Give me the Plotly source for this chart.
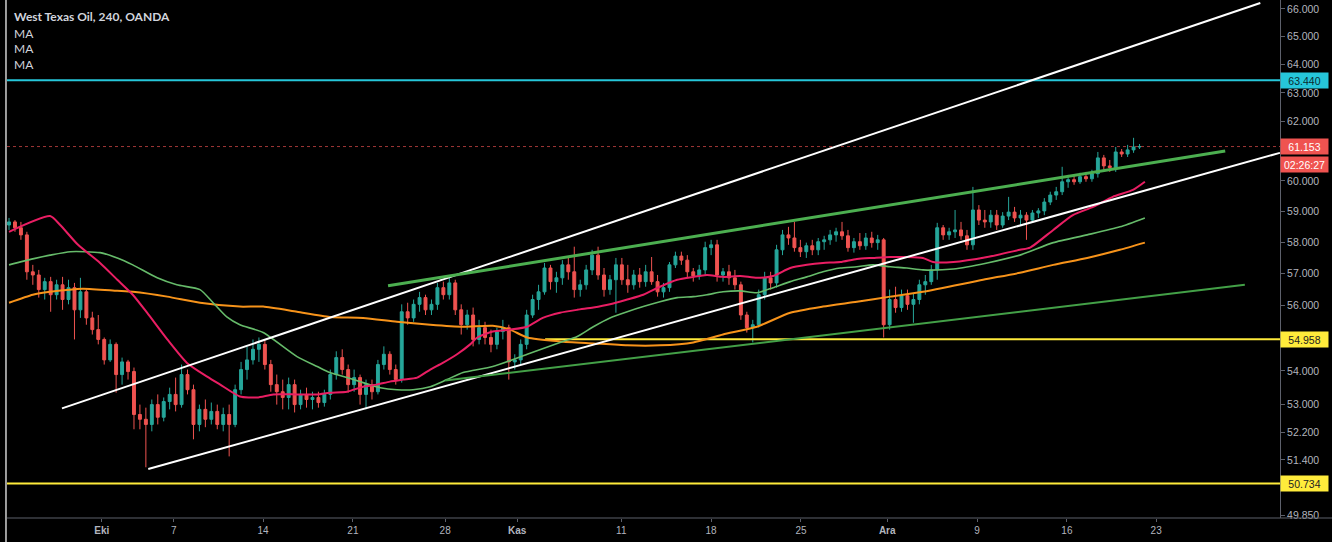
import math
import plotly.graph_objects as go

# ---------------- data ----------------
open_ = [
    58.55, 58.65, 58.46, 58.23, 57.05, 56.95, 56.49, 56.74, 56.33, 56.64,
    56.18, 56.55, 55.86, 56.42, 55.61, 55.25, 54.95, 54.33, 54.80, 53.89,
    54.27, 53.98, 52.71, 52.57, 52.42, 53.00, 52.63, 53.09, 53.30, 53.00,
    53.89, 53.44, 52.42, 52.86, 52.57, 52.80, 52.42, 52.71, 52.42, 53.44,
    54.04, 54.33, 54.65, 54.80, 54.19, 53.59, 53.38, 53.21, 53.59, 53.00,
    53.30, 53.15, 53.21, 53.06, 53.30, 53.89, 54.40, 54.04, 53.59, 53.80,
    53.30, 53.59, 53.38, 54.19, 54.50, 54.04, 53.74, 55.80, 55.61, 56.03,
    56.24, 55.86, 56.03, 56.55, 56.33, 56.70, 55.86, 55.40, 55.70, 54.95,
    55.31, 55.01, 54.80, 55.19, 55.31, 54.27, 54.33, 54.80, 55.70, 56.18,
    56.42, 57.17, 56.74, 56.86, 57.27, 57.05, 56.49, 56.64, 57.11, 57.58,
    56.95, 56.49, 56.80, 57.27, 56.80, 56.64, 56.95, 56.74, 57.05, 56.74,
    56.42, 56.55, 57.27, 57.55, 57.42, 57.05, 56.92, 57.11, 57.82, 57.91,
    56.95, 57.05, 56.86, 56.64, 55.70, 55.31, 55.40, 56.33, 56.86, 56.70,
    57.75, 58.23, 58.13, 57.82, 57.69, 57.88, 57.75, 58.01, 58.07, 58.23,
    58.33, 58.20, 57.82, 58.01, 57.88, 58.13, 57.98, 58.07, 55.40, 56.18,
    55.93, 56.30, 56.03, 56.18, 56.64, 56.74, 57.11, 58.46, 58.23, 58.33,
    58.39, 58.20, 57.91, 59.04, 58.71, 58.65, 58.87, 58.55, 58.84, 58.97,
    58.78, 58.87, 58.71, 58.94, 59.01, 59.30, 59.53, 59.64, 59.97, 60.04,
    59.97, 60.14, 60.07, 60.24, 60.77, 60.50, 60.44, 60.97, 60.90, 61.04,
    61.14,
]
high = [
    58.78, 58.71, 58.65, 58.33, 57.27, 57.11, 56.86, 56.89, 56.80, 56.89,
    56.80, 56.70, 56.86, 56.49, 55.80, 55.70, 55.01, 54.95, 54.86, 54.40,
    54.33, 54.10, 53.00, 52.91, 53.15, 53.30, 53.21, 53.50, 53.80, 54.19,
    54.04, 53.59, 53.00, 53.15, 53.06, 53.00, 52.91, 53.00, 53.59, 54.27,
    54.74, 54.95, 55.01, 54.95, 54.33, 53.89, 53.74, 53.80, 53.74, 53.44,
    53.50, 53.38, 53.38, 53.44, 54.04, 54.59, 54.65, 54.19, 54.04, 53.89,
    53.74, 53.74, 54.33, 54.74, 54.59, 54.19, 56.03, 56.08, 56.18, 56.42,
    56.33, 56.18, 56.70, 56.74, 56.86, 56.80, 56.03, 55.86, 55.93, 55.55,
    55.49, 55.25, 55.31, 55.55, 55.40, 54.50, 54.95, 55.86, 56.33, 56.64,
    57.33, 57.27, 57.05, 57.42, 57.49, 57.85, 56.80, 57.27, 57.75, 57.85,
    57.17, 56.95, 57.49, 57.49, 57.27, 57.11, 57.17, 57.27, 57.52, 56.95,
    56.70, 57.36, 57.69, 57.69, 57.58, 57.17, 57.27, 58.01, 58.07, 58.07,
    57.17, 57.27, 57.11, 56.74, 55.80, 55.55, 56.49, 57.05, 57.05, 57.91,
    58.39, 58.49, 58.65, 58.07, 57.98, 58.07, 58.13, 58.20, 58.39, 58.46,
    58.65, 58.39, 58.13, 58.29, 58.29, 58.33, 58.23, 58.13, 56.49, 56.58,
    56.49, 56.49, 56.39, 56.80, 56.95, 57.27, 58.62, 58.55, 58.46, 59.04,
    58.65, 58.39, 59.80, 59.20, 59.04, 59.04, 59.04, 58.97, 59.47, 59.14,
    59.04, 58.97, 59.04, 59.10, 59.43, 59.64, 59.80, 60.47, 60.20, 60.20,
    60.27, 60.30, 60.37, 60.97, 60.87, 60.70, 61.14, 61.07, 61.21, 61.45,
    61.24,
]
low = [
    58.39, 58.33, 58.07, 56.80, 56.64, 56.24, 56.18, 55.80, 56.18, 55.86,
    56.03, 54.95, 55.61, 55.40, 55.10, 54.80, 54.19, 54.27, 53.35, 53.59,
    53.74, 52.28, 52.28, 51.19, 52.22, 52.42, 52.51, 52.86, 52.80, 52.91,
    53.30, 51.99, 52.22, 52.34, 52.42, 52.28, 52.22, 51.50, 52.34, 53.30,
    53.74, 54.19, 54.27, 54.04, 53.38, 53.00, 52.86, 52.86, 52.77, 52.86,
    52.91, 52.86, 52.91, 52.94, 53.15, 53.74, 53.89, 53.35, 53.38, 53.00,
    52.86, 53.15, 53.30, 54.04, 53.89, 53.59, 53.65, 55.40, 55.49, 55.80,
    55.70, 55.70, 55.86, 56.18, 56.18, 55.70, 55.10, 55.25, 54.74, 54.80,
    54.80, 54.56, 54.65, 54.95, 53.74, 54.04, 54.19, 54.65, 55.61, 55.86,
    56.33, 56.49, 56.39, 56.64, 56.80, 56.24, 56.27, 56.49, 56.95, 56.80,
    56.27, 56.33, 55.77, 56.64, 56.39, 56.49, 56.55, 56.58, 56.64, 56.27,
    56.24, 56.42, 57.17, 57.27, 56.86, 56.74, 56.80, 56.95, 57.58, 56.74,
    56.74, 56.64, 56.49, 55.55, 55.16, 54.86, 55.31, 56.18, 56.49, 56.55,
    57.58, 57.91, 57.69, 57.52, 57.49, 57.58, 57.58, 57.75, 57.91, 58.01,
    58.07, 57.69, 57.66, 57.75, 57.75, 57.82, 57.75, 55.01, 55.25, 55.77,
    55.80, 55.86, 55.46, 56.03, 56.33, 56.64, 56.80, 58.07, 58.07, 58.13,
    58.07, 57.75, 57.75, 58.55, 58.46, 58.46, 58.39, 58.46, 58.71, 58.65,
    58.55, 58.07, 58.65, 58.78, 58.87, 59.20, 59.37, 59.53, 59.77, 59.87,
    59.90, 59.97, 59.97, 60.11, 60.37, 60.30, 60.30, 60.80, 60.80, 60.94,
    61.07,
]
close = [
    58.65, 58.46, 58.23, 57.05, 56.95, 56.49, 56.74, 56.33, 56.64, 56.18,
    56.55, 55.86, 56.42, 55.61, 55.25, 54.95, 54.33, 54.80, 53.89, 54.27,
    53.98, 52.71, 52.57, 52.42, 53.00, 52.63, 53.09, 53.30, 53.00, 53.89,
    53.44, 52.42, 52.86, 52.57, 52.80, 52.42, 52.71, 52.42, 53.44, 54.04,
    54.33, 54.65, 54.80, 54.19, 53.59, 53.38, 53.21, 53.59, 53.00, 53.30,
    53.15, 53.21, 53.06, 53.30, 53.89, 54.40, 54.04, 53.59, 53.80, 53.30,
    53.59, 53.38, 54.19, 54.50, 54.04, 53.74, 55.80, 55.61, 56.03, 56.24,
    55.86, 56.03, 56.55, 56.33, 56.70, 55.86, 55.40, 55.70, 54.95, 55.31,
    55.01, 54.80, 55.19, 55.31, 54.27, 54.33, 54.80, 55.70, 56.18, 56.42,
    57.17, 56.74, 56.86, 57.27, 57.05, 56.49, 56.64, 57.11, 57.58, 56.95,
    56.49, 56.80, 57.27, 56.80, 56.64, 56.95, 56.74, 57.05, 56.74, 56.42,
    56.55, 57.27, 57.55, 57.42, 57.05, 56.92, 57.11, 57.82, 57.91, 56.95,
    57.05, 56.86, 56.64, 55.70, 55.31, 55.40, 56.33, 56.86, 56.70, 57.75,
    58.23, 58.13, 57.82, 57.69, 57.88, 57.75, 58.01, 58.07, 58.23, 58.33,
    58.20, 57.82, 58.01, 57.88, 58.13, 57.98, 58.07, 55.40, 56.18, 55.93,
    56.30, 56.03, 56.18, 56.64, 56.74, 57.11, 58.46, 58.23, 58.33, 58.39,
    58.20, 57.91, 59.04, 58.71, 58.65, 58.87, 58.55, 58.84, 58.97, 58.78,
    58.87, 58.71, 58.94, 59.01, 59.30, 59.53, 59.64, 59.97, 60.04, 59.97,
    60.14, 60.07, 60.24, 60.77, 60.50, 60.44, 60.97, 60.90, 61.04, 61.14,
    61.153,
]

# moving averages (bar index, price)
ma_red_bar = [0, 6.9, 8.6, 11.6, 15.3, 18.2, 20.8, 23.2, 26.6, 29.9, 33.3, 35.5, 38.8, 41.7, 44.4,
              48.4, 51.8, 53.9, 56.8, 59.5, 61.8, 64.0, 66.2, 68.6, 70.8, 72.9, 75.3, 77.5, 78.7,
              81.3, 84.2, 87.1, 89.7, 92.6, 95.5, 98.2, 101.0, 103.9, 106.6, 109.4, 112.3, 115.0,
              117.3, 120.0, 122.9, 125.7, 128.4, 131.3, 134.1, 136.8, 139.7, 142.5, 145.2, 148.1,
              150.9, 153.6, 155.3, 158.7, 164.4, 169.9, 171.6, 175.5, 178.8, 182.2, 185.5, 188.9, 190.9]
ma_red = [58.33, 58.84, 58.55, 57.91, 57.33, 56.80, 56.33, 55.77, 54.95, 54.24, 53.83, 53.59, 53.24,
          53.21, 53.30, 53.30, 53.30, 53.35, 53.38, 53.53, 53.59, 53.68, 53.74, 53.80, 54.04, 54.24,
          54.50, 54.80, 55.01, 55.19, 55.25, 55.34, 55.61, 55.77, 55.86, 55.93, 56.03, 56.18, 56.33,
          56.58, 56.80, 56.89, 56.95, 56.89, 56.92, 56.86, 56.92, 57.17, 57.27, 57.33, 57.36, 57.46,
          57.49, 57.52, 57.52, 57.49, 57.36, 57.36, 57.52, 57.75, 57.82, 58.39, 58.87, 59.14, 59.47,
          59.70, 59.97]

ma_green_bar = [0, 4.0, 6.9, 10.3, 15.3, 18.2, 20.8, 24.9, 28.2, 32.1, 34.3, 36.6, 38.8, 42.7, 48.4,
                51.8, 53.9, 56.8, 59.5, 62.4, 65.2, 67.9, 70.8, 73.6, 76.3, 81.3, 87.1, 92.6, 95.5,
                98.2, 101.0, 103.9, 106.6, 109.4, 112.3, 115.0, 117.3, 120.0, 122.9, 125.7, 128.4,
                131.3, 134.1, 136.8, 139.7, 142.5, 145.2, 148.1, 150.9, 153.6, 158.7, 164.4, 169.9,
                175.5, 181.2, 186.7, 190.9]
ma_green = [57.27, 57.46, 57.58, 57.69, 57.66, 57.49, 57.27, 56.86, 56.64, 56.49, 56.08, 55.64,
            55.40, 55.16, 54.43, 54.13, 53.95, 53.80, 53.65, 53.50, 53.44, 53.44, 53.53, 53.74,
            53.95, 54.13, 54.50, 54.86, 55.04, 55.34, 55.61, 55.80, 55.96, 56.11, 56.24, 56.27,
            56.33, 56.42, 56.45, 56.39, 56.55, 56.74, 56.89, 57.05, 57.17, 57.21, 57.27, 57.21,
            57.17, 57.11, 57.14, 57.33, 57.58, 57.98, 58.23, 58.49, 58.78]

ma_orange_bar = [0, 4.0, 6.9, 12.4, 18.2, 20.8, 26.6, 32.1, 38.8, 42.7, 48.4, 53.9, 59.5, 65.2, 70.8,
                 76.3, 81.3, 84.2, 87.1, 92.6, 98.2, 103.9, 109.4, 115.0, 120.0, 125.7, 131.3, 136.8,
                 142.5, 148.1, 153.6, 163.7, 169.9, 175.5, 181.2, 186.7, 190.9]
ma_orange = [56.08, 56.33, 56.42, 56.52, 56.45, 56.42, 56.27, 56.08, 55.96, 55.96, 55.80, 55.64,
             55.61, 55.49, 55.40, 55.34, 55.37, 55.25, 55.01, 54.89, 54.83, 54.77, 54.77, 54.86,
             55.10, 55.34, 55.77, 55.96, 56.11, 56.27, 56.42, 56.80, 57.02, 57.27, 57.49, 57.75, 57.98]

# drawn trend lines: (start bar, end bar), (start price, end price)
chan_upper_bar, chan_upper_px = [8.9, 210.3], [52.89, 66.22]
chan_lower_bar, chan_lower_px = [23.4, 213.6], [51.14, 60.94]
res_green_bar, res_green_px = [63.7, 204.4], [56.61, 61.00]
sup_green_bar, sup_green_px = [73.3, 207.7], [53.71, 56.64]

# horizontal levels
level_cyan = 63.440
level_last = 61.153
level_yellow_hi = 54.958
level_yellow_hi_from = 90.1
level_yellow_lo = 50.734
countdown_text = "02:26:27"

# axes
x_range = [-0.34, 213.61]
y_range_price = [49.77, 66.33]
x_tick_pos = [15.6, 27.7, 42.7, 57.8, 73.3, 85.4, 102.9, 118.0, 133.1, 147.6, 162.7, 177.8, 192.8]
x_tick_text = ["<b>Eki</b>", "7", "14", "21", "28", "<b>Kas</b>", "11", "18", "25",
               "<b>Ara</b>", "9", "16", "23"]
y_tick_vals = [66, 65, 64, 63, 62, 60, 59, 58, 57, 56, 54, 53, 52.2, 51.4, 49.85]
y_tick_text = [f"{v:.3f}" for v in y_tick_vals]

title_text = "West Texas Oil, 240, OANDA"
ma_labels = ["MA", "MA", "MA"]

# ---------------- styles ----------------
UP = "#26a69a"
DOWN = "#ef5350"
AXIS = "#5d606b"
TXT = "#b2b5be"

bars = list(range(len(close)))
fig = go.Figure()

def hline(price, color, width, dash="solid", x0=None, opacity=1.0):
    fig.add_trace(go.Scatter(
        x=[x_range[0] if x0 is None else x0, x_range[1]], y=[price, price],
        mode="lines", line=dict(color=color, width=width, dash=dash), opacity=opacity,
        hoverinfo="skip", showlegend=False))

hline(level_cyan, "#26c6da", 2)
hline(level_yellow_lo, "#ffeb3b", 2)
hline(level_yellow_hi, "#ffeb3b", 2, x0=level_yellow_hi_from)
hline(level_last, "#d84a4a", 1, dash="dot", opacity=0.75)

fig.add_trace(go.Candlestick(
    x=bars, open=open_, high=high, low=low, close=close,
    increasing=dict(line=dict(color=UP, width=1), fillcolor=UP),
    decreasing=dict(line=dict(color=DOWN, width=1), fillcolor=DOWN),
    whiskerwidth=0, hoverinfo="skip", showlegend=False))

for xs, ys, col, w in [(ma_orange_bar, ma_orange, "#f7931a", 2),
                       (ma_green_bar, ma_green, "#66bb6a", 1.6),
                       (ma_red_bar, ma_red, "#e91e63", 2)]:
    fig.add_trace(go.Scatter(x=xs, y=ys, mode="lines",
                             line=dict(color=col, width=w, shape="spline", smoothing=0.6),
                             hoverinfo="skip", showlegend=False))

for xs, ys, col, w in [(chan_upper_bar, chan_upper_px, "#ffffff", 2),
                       (chan_lower_bar, chan_lower_px, "#ffffff", 2),
                       (res_green_bar, res_green_px, "#4caf50", 3),
                       (sup_green_bar, sup_green_px, "#43a047", 2)]:
    fig.add_trace(go.Scatter(x=xs, y=ys, mode="lines", line=dict(color=col, width=w),
                             hoverinfo="skip", showlegend=False))

annotations = [
    dict(text=f"<b>{title_text}</b>", x=0.0039, y=0.969, xref="paper", yref="paper",
         xanchor="left", yanchor="middle", showarrow=False,
         font=dict(family="Lato", size=12, color="#d1d4dc")),
]
for k, lab in enumerate(ma_labels):
    annotations.append(dict(text=lab, x=0.0039, y=[0.936, 0.907, 0.876][k], xref="paper", yref="paper",
                            xanchor="left", yanchor="middle", showarrow=False,
                            font=dict(family="Lato", size=12, color="#d1d4dc")))

def price_box(price, bg, fg, text=None, yshift=0):
    annotations.append(dict(
        text=text if text is not None else f"{price:.3f}", x=1, y=math.log10(price),
        xref="paper", yref="y", xanchor="left", yanchor="middle", yshift=yshift,
        showarrow=False, bgcolor=bg, width=45, height=13, borderpad=1, align="center",
        font=dict(family="Liberation Sans", size=10.5, color=fg)))

price_box(level_cyan, "#26c6da", "#0b2b30")
price_box(level_last, DOWN, "#ffffff")
price_box(level_last, DOWN, "#ffffff", text=countdown_text, yshift=-18)
price_box(level_yellow_hi, "#ffeb3b", "#222222")
price_box(level_yellow_lo, "#ffeb3b", "#222222")

shapes = [
    dict(type="line", xref="paper", yref="paper", x0=-0.0008, x1=-0.0008, y0=-0.05, y1=1,
         line=dict(color="#cfcfcf", width=1.5)),
    dict(type="line", xref="paper", yref="paper", x0=0, x1=1.05, y0=0, y1=0,
         line=dict(color=AXIS, width=1)),
]

fig.update_layout(
    width=1332, height=542,
    margin=dict(l=7, r=52, t=0, b=24),
    paper_bgcolor="#000000", plot_bgcolor="#000000",
    showlegend=False,
    annotations=annotations, shapes=shapes,
    xaxis=dict(range=x_range, showgrid=False, zeroline=False, showline=False,
               tickmode="array", tickvals=x_tick_pos, ticktext=x_tick_text,
               ticks="outside", ticklen=3, tickcolor=AXIS,
               tickfont=dict(family="Liberation Sans", size=10, color=TXT),
               rangeslider=dict(visible=False), fixedrange=True),
    yaxis=dict(type="log", range=[math.log10(y_range_price[0]), math.log10(y_range_price[1])],
               side="right", showgrid=False, zeroline=False, showline=True,
               linecolor=AXIS, linewidth=1, tickmode="array",
               tickvals=y_tick_vals, ticktext=y_tick_text,
               ticks="outside", ticklen=4, tickcolor=AXIS,
               tickfont=dict(family="Liberation Sans", size=10.5, color=TXT), fixedrange=True),
)

fig.write_html("out.html")
